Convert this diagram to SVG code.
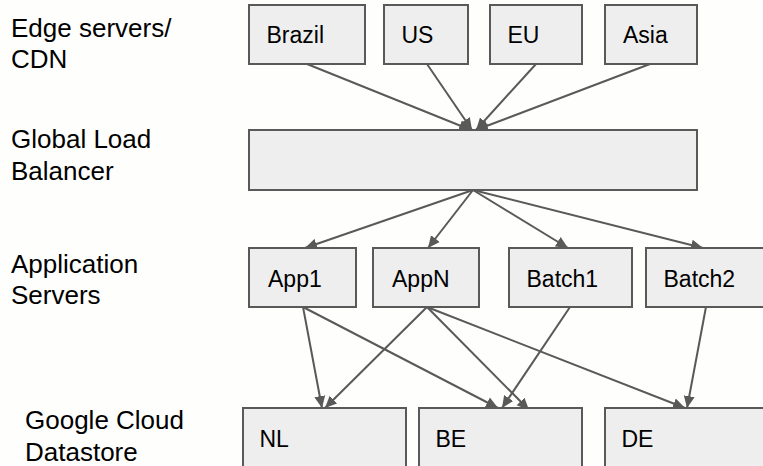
<svg xmlns="http://www.w3.org/2000/svg" width="763" height="466" viewBox="0 0 763 466">
<style>
.box{fill:#eeeeee;stroke:#595959;stroke-width:2}
.lbl{font-family:"Liberation Sans",Arial,sans-serif;font-size:23px;fill:#000}
.side{font-family:"Liberation Sans",Arial,sans-serif;font-size:26px;fill:#000}
.edge{stroke:#595959;stroke-width:2;fill:none;marker-end:url(#arr)}
</style>
<defs>
<marker id="arr" markerUnits="userSpaceOnUse" markerWidth="13" markerHeight="12" refX="12" refY="6" orient="auto">
<path d="M0,0.5 L12,6 L0,11.5 z" fill="#595959"/>
</marker>
</defs>
<rect width="763" height="466" fill="#fefefc"/>
<g id="side-labels">
<text class="side" x="11" y="37">Edge servers/</text>
<text class="side" x="11" y="68">CDN</text>
<text class="side" x="11" y="148">Global Load</text>
<text class="side" x="11" y="180">Balancer</text>
<text class="side" x="11" y="273">Application</text>
<text class="side" x="11" y="304">Servers</text>
<text class="side" x="25" y="429">Google Cloud</text>
<text class="side" x="25" y="461">Datastore</text>
</g>
<g id="connectors">
<line class="edge" x1="307" y1="64" x2="471" y2="130"/>
<line class="edge" x1="427" y1="64" x2="472" y2="130"/>
<line class="edge" x1="536" y1="64" x2="476" y2="130"/>
<line class="edge" x1="650" y1="64" x2="476" y2="130"/>
<line class="edge" x1="473" y1="190" x2="305" y2="248"/>
<line class="edge" x1="473" y1="190" x2="428" y2="248"/>
<line class="edge" x1="473" y1="190" x2="568" y2="248"/>
<line class="edge" x1="473" y1="190" x2="703" y2="248"/>
<line class="edge" x1="303" y1="307" x2="322" y2="408"/>
<line class="edge" x1="303" y1="307" x2="498" y2="408"/>
<line class="edge" x1="427" y1="307" x2="325" y2="408"/>
<line class="edge" x1="427" y1="307" x2="529" y2="410"/>
<line class="edge" x1="427" y1="307" x2="685" y2="408"/>
<line class="edge" x1="570" y1="307" x2="502" y2="408"/>
<line class="edge" x1="706" y1="307" x2="687" y2="408"/>
</g>
<g id="brazil"><rect class="box" x="249" y="5" width="116" height="59"/><text class="lbl" x="266.5" y="43">Brazil</text></g>
<g id="us"><rect class="box" x="384" y="5" width="84" height="59"/><text class="lbl" x="401.5" y="43">US</text></g>
<g id="eu"><rect class="box" x="490" y="5" width="92" height="59"/><text class="lbl" x="507.5" y="43">EU</text></g>
<g id="asia"><rect class="box" x="605" y="5" width="92" height="59"/><text class="lbl" x="623" y="43">Asia</text></g>
<g id="glb"><rect class="box" x="249" y="130" width="448" height="60"/></g>
<g id="app1"><rect class="box" x="249" y="248" width="107" height="59"/><text class="lbl" x="268" y="287">App1</text></g>
<g id="appn"><rect class="box" x="373" y="248" width="106" height="59"/><text class="lbl" x="392" y="287">AppN</text></g>
<g id="batch1"><rect class="box" x="509" y="248" width="123" height="59"/><text class="lbl" x="526.5" y="287">Batch1</text></g>
<g id="batch2"><rect class="box" x="646" y="248" width="130" height="59"/><text class="lbl" x="663.5" y="287">Batch2</text></g>
<g id="nl"><rect class="box" x="243" y="408" width="163" height="70"/><text class="lbl" x="259.5" y="447">NL</text></g>
<g id="be"><rect class="box" x="419" y="408" width="163" height="70"/><text class="lbl" x="435.5" y="447">BE</text></g>
<g id="de"><rect class="box" x="605" y="408" width="170" height="70"/><text class="lbl" x="621.5" y="447">DE</text></g>
</svg>
